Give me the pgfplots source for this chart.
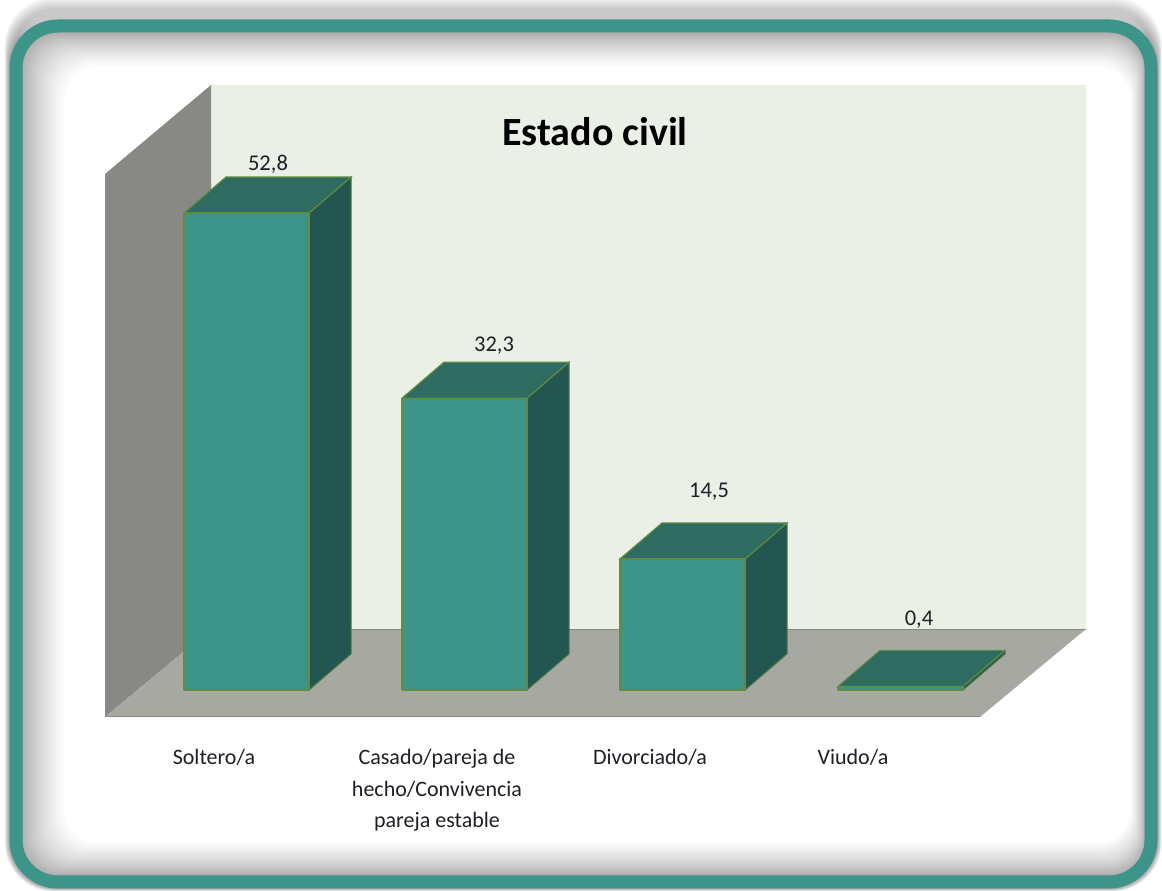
\documentclass[border=0pt]{standalone}
\usepackage{fontspec}
\setmainfont{Carlito}
\usepackage{pgfplots}
\pgfplotsset{compat=1.18}

\definecolor{frameteal}{HTML}{3D9488}
\definecolor{barfront}{HTML}{3D9488}
\definecolor{bartop}{HTML}{2E6B60}
\definecolor{barside}{HTML}{235650}
\definecolor{baredge}{HTML}{5F8B42}
\definecolor{backwall}{HTML}{EAF0E5}
\definecolor{sidewall}{HTML}{888884}
\definecolor{floorgrey}{HTML}{A8A8A2}
\definecolor{labelink}{HTML}{1F1F26}

% One 3-D column: left edge of the front face (#1) and its value (#2).
% Depth is 42 units across and 3.985 value units up; the front is 125 wide.
\newcommand{\columnbox}[2]{%
  \addplot[fill=barside,draw=baredge!70!barside,line width=1pt] coordinates
    {({#1+125},0) ({#1+167},3.985) ({#1+167},{#2+3.985}) ({#1+125},#2) ({#1+125},0)};
  \addplot[fill=bartop,draw=baredge,line width=1.2pt] coordinates
    {(#1,#2) ({#1+42},{#2+3.985}) ({#1+167},{#2+3.985}) ({#1+125},#2) (#1,#2)};
  \addplot[fill=barfront,draw=baredge,line width=1.2pt] coordinates
    {(#1,0) ({#1+125},0) ({#1+125},#2) (#1,#2) (#1,0)};
}

\begin{document}
\begin{tikzpicture}
\useasboundingbox (0pt,0pt) rectangle (1162pt,891pt);

% Rounded frame with its soft shadow, laid out from the top-left corner
\begin{scope}[x=1pt,y=-1pt,shift={(0pt,891pt)}]
  \fill[white] (0,0) rectangle (1162,891);
  % outer glow, heavier along the top edge
  \foreach \k in {1,...,14}{
    \pgfmathsetmacro{\l}{16-0.35*\k}
    \pgfmathsetmacro{\t}{26-1.6*\k}
    \pgfmathsetmacro{\r}{1151+0.3*\k}
    \pgfmathsetmacro{\b}{882+0.2*\k}
    \draw[line width=13pt,draw=black,opacity=.026,rounded corners=42pt]
      (\l,\t) rectangle (\r,\b);
  }
  % inner shadow, layers packed towards the frame
  \foreach \k in {1,...,22}{
    \pgfmathsetmacro{\f}{(\k/22)^1.5}
    \pgfmathsetmacro{\l}{22+42*\f}
    \pgfmathsetmacro{\t}{33+33*\f}
    \pgfmathsetmacro{\r}{1145-14*\f}
    \pgfmathsetmacro{\b}{875-32*\f}
    \fill[even odd rule,black,opacity=.0155,rounded corners=34pt]
      (20,31) rectangle (1147,877) (\l,\t) rectangle (\r,\b);
  }
  \draw[line width=13pt,draw=frameteal,rounded corners=42pt]
    (16,26) rectangle (1151,882);
\end{scope}

\begin{axis}[
  at={(0pt,174pt)},anchor=south west,
  scale only axis,width=1162pt,height=632pt,
  xmin=0,xmax=1162,ymin=-2.99,ymax=66.97,
  clip=false,
  axis line style={draw=none},
  tick style={draw=none},
  ytick=\empty,
  xtick={214,437,650,853},
  xticklabels={Soltero/a,
    {Casado/pareja de\\hecho/Convivencia\\pareja estable},
    Divorciado/a,Viudo/a},
  xticklabel style={anchor=north,align=center,text=labelink,
    font=\fontsize{22}{31.5}\selectfont,yshift=-29pt},
]
  % chart walls and floor
  \addplot[fill=backwall,draw=none] coordinates
    {(211,66.97) (1086,66.97) (1086,6.75) (211,6.75) (211,66.97)};
  \addplot[fill=sidewall,draw=none] coordinates
    {(105,57.12) (211,66.97) (211,6.75) (105,-2.99) (105,57.12)};
  \addplot[fill=floorgrey,draw=none] coordinates
    {(105,-2.99) (211,6.75) (1086,6.75) (980,-2.99) (105,-2.99)};
  \addplot[draw=sidewall,line width=1pt] coordinates {(211,6.75) (1086,6.75)};
  \addplot[draw=sidewall,line width=1pt] coordinates {(105,-2.99) (980,-2.99)};

  % columns
  \columnbox{184}{52.8}
  \columnbox{402}{32.3}
  \columnbox{620}{14.5}
  \columnbox{838}{0.4}

  % value labels
  \begin{scope}[every node/.style={text=labelink,font=\fontsize{22.5}{26}\selectfont}]
    \node at (axis cs:268,58.15) {52,8};
    \node at (axis cs:494,38.10) {32,3};
    \node at (axis cs:709,21.95) {14,5};
    \node at (axis cs:919,7.78) {0,4};
  \end{scope}

  % title
  \node[text=black,font=\fontsize{40}{44}\selectfont\bfseries]
    at (axis cs:595,61.8) {Estado civil};
\end{axis}
\end{tikzpicture}
\end{document}
